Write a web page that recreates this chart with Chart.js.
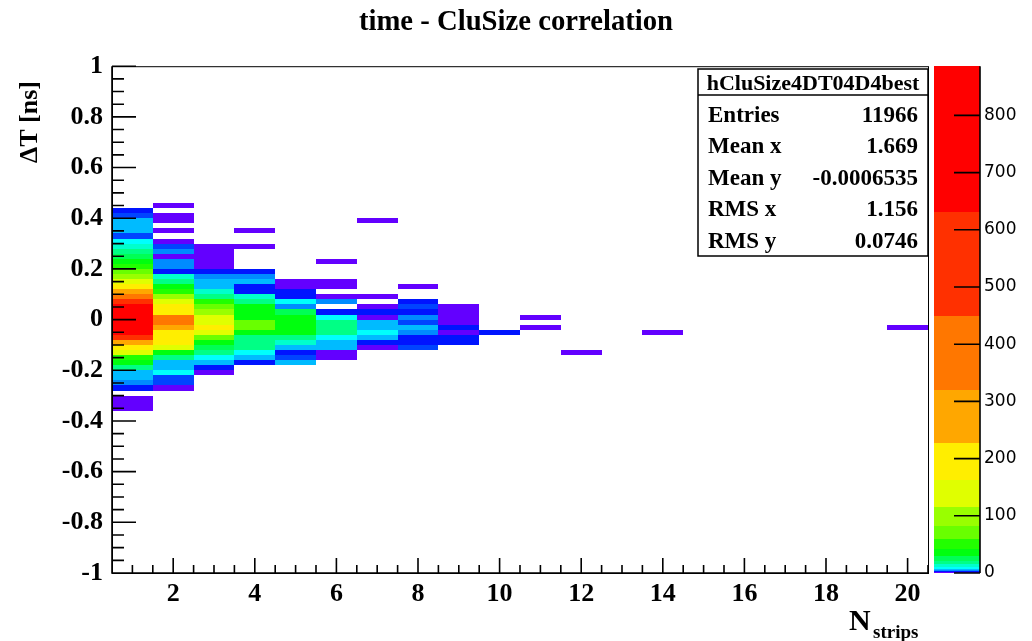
<!DOCTYPE html>
<html>
<head>
<meta charset="utf-8">
<title>time - CluSize correlation</title>
<script src="https://cdn.jsdelivr.net/npm/chart.js@4.4.1/dist/chart.umd.min.js"></script>
<style>
  html, body { margin: 0; padding: 0; background: #fff; }
</style>
</head>
<body>
<canvas id="hist" width="1032" height="641"></canvas>
<script>
// Stats box of the histogram
const histName = 'hCluSize4DT04D4best';
const statLabels = ['Entries', 'Mean x', 'Mean y', 'RMS x', 'RMS y'];
const statValues = ['11966', '1.669', '-0.0006535', '1.156', '0.0746'];

// Axis ticks
const xTicks = [2, 4, 6, 8, 10, 12, 14, 16, 18, 20];
const yTicks = [-1, -0.8, -0.6, -0.4, -0.2, 0, 0.2, 0.4, 0.6, 0.8, 1];
const zTicks = [0, 100, 200, 300, 400, 500, 600, 700, 800];

// Bin contents: one array per cluster size, starting at the lowest filled
// time bin (lower edge in firstBinLow) and going up in steps of yBinWidth
const yBinWidth = 0.02;
const stripValues = [1, 2, 3, 4, 5, 6, 7, 8, 9, 10, 11, 12, 14, 20];
const firstBinLow = [-0.36, -0.28, -0.22, -0.18, -0.18, -0.16, -0.12, -0.12, -0.10, -0.06, -0.04, -0.14, -0.06, -0.04];

const col1 = [1, 1, 1, 0, 2, 5, 6, 6, 18, 35, 50, 130, 190, 280, 500, 700, 800, 886, 860, 780,
              700, 550, 400, 240, 200, 135, 95, 68, 48, 33, 24, 17, 12, 9, 3, 6, 6, 6, 3, 2];
const col2 = [1, 3, 3, 8, 6, 6, 17, 35, 130, 190, 200, 210, 260, 360, 360, 225, 180, 130, 90, 45,
              33, 17, 12, 2, 5, 4, 1, 4, 3, 1, 0, 1, 0, 1, 1, 0, 1];
const col3 = [1, 2, 6, 9, 17, 25, 35, 65, 125, 170, 140, 130, 90, 65, 45, 18, 12, 6, 6, 4, 2, 1, 1, 1, 1, 1];
const col4 = [2, 6, 9, 16, 17, 18, 30, 60, 65, 40, 35, 32, 17, 12, 2, 2, 6, 4, 2, 0, 0, 0, 0, 1, 0, 0, 1];
const col5 = [6, 3, 2, 6, 12, 17, 35, 38, 40, 38, 25, 4, 9, 2, 2, 1, 1];
const col6 = [1, 1, 6, 6, 9, 17, 18, 17, 9, 2, 0, 4, 1, 0, 1, 1, 0, 0, 0, 1];
const col7 = [1, 2, 6, 9, 6, 6, 1, 2, 1, 0, 1, 0, 0, 0, 0, 0, 0, 0, 0, 0, 0, 0, 0, 0, 0, 1];
const col8 = [3, 2, 2, 4, 6, 3, 4, 2, 3, 2, 0, 0, 1];
const col9 = [2, 2, 1, 2, 1, 1, 1, 1];
const col10 = [2];
const col11 = [1, 0, 1];
const col12 = [1];
const col14 = [1];
const col20 = [1];
const columnCounts = [col1, col2, col3, col4, col5, col6, col7, col8, col9, col10, col11, col12, col14, col20];

// ROOT "pretty" palette, 20 contour levels (log spaced)
const palette = ['#6300ff', '#3300ff', '#0014ff', '#0044ff', '#008bff', '#00bbff', '#00fffc', '#00ffcc',
                 '#00ff85', '#00ff55', '#00ff0e', '#22ff00', '#69ff00', '#99ff00', '#e0ff00', '#ffee00',
                 '#ffa700', '#ff7700', '#ff3000', '#ff0000'];
const nLevels = palette.length;
const zMax = Math.max(...columnCounts.flat());

const serif = "'Liberation Serif', 'Times New Roman', serif";

function levelOf(v) {
    const k = Math.floor(nLevels * Math.log(v) / Math.log(zMax));
    return Math.min(Math.max(k, 0), nLevels - 1);
}

function levelEdge(k) {
    return k <= 0 ? 0 : Math.pow(zMax, k / nLevels);
}

const rootLook = {
    id: 'rootLook',
    beforeDatasetsDraw(chart) {
        const { ctx, chartArea: a, scales: { x, y, z } } = chart;
        ctx.save();

        // 2D histogram cells
        stripValues.forEach((s, i) => {
            const x0 = Math.round(x.getPixelForValue(s - 0.5));
            const x1 = Math.round(x.getPixelForValue(s + 0.5));
            columnCounts[i].forEach((v, j) => {
                if (v <= 0) return;
                const lo = firstBinLow[i] + j * yBinWidth;
                const yt = Math.round(y.getPixelForValue(lo + yBinWidth));
                const yb = Math.round(y.getPixelForValue(lo));
                ctx.fillStyle = palette[levelOf(v)];
                ctx.fillRect(x0, yt, x1 - x0, yb - yt);
            });
        });

        // colour bar
        const cx0 = a.right + 6, cx1 = a.right + 52;
        for (let k = 0; k < nLevels; k++) {
            const yt = Math.round(z.getPixelForValue(Math.min(levelEdge(k + 1), zMax)));
            const yb = Math.round(z.getPixelForValue(levelEdge(k)));
            ctx.fillStyle = palette[k];
            ctx.fillRect(cx0, yt, cx1 - cx0, yb - yt);
        }
        ctx.restore();
    },
    afterDraw(chart) {
        const { ctx, chartArea: a, scales: { x, y, z } } = chart;
        ctx.save();
        ctx.strokeStyle = '#000';

        // frame
        ctx.lineWidth = 1;
        ctx.strokeRect(a.left + 0.5, a.top + 0.5, a.right - a.left, a.bottom - a.top);

        // axes with inward ticks
        ctx.lineWidth = 1.6;
        ctx.beginPath();
        ctx.moveTo(a.left, a.top);
        ctx.lineTo(a.left, a.bottom);
        ctx.lineTo(a.right, a.bottom);
        for (let v = -1; v <= 1.0001; v += 0.05) {
            const py = y.getPixelForValue(v);
            const major = yTicks.some(t => Math.abs(t - v) < 1e-6);
            ctx.moveTo(a.left, py);
            ctx.lineTo(a.left + (major ? 24 : 12), py);
        }
        for (let v = 1; v <= 20.5001; v += 0.5) {
            const px = x.getPixelForValue(v);
            const major = xTicks.includes(v);
            ctx.moveTo(px, a.bottom);
            ctx.lineTo(px, a.bottom - (major ? 15 : 8));
        }
        ctx.stroke();

        // colour bar axis
        const cx1 = a.right + 52;
        ctx.beginPath();
        ctx.moveTo(cx1, a.top);
        ctx.lineTo(cx1, a.bottom);
        zTicks.forEach(t => {
            const py = z.getPixelForValue(t);
            ctx.moveTo(cx1 - 26, py);
            ctx.lineTo(cx1, py);
        });
        ctx.stroke();

        // axis titles
        ctx.fillStyle = '#000';
        ctx.font = `bold 26px ${serif}`;
        ctx.save();
        ctx.translate(30, 81);
        ctx.rotate(-Math.PI / 2);
        ctx.textAlign = 'right';
        ctx.textBaseline = 'middle';
        ctx.fillText('\u0394T [ns]', 0, 0);
        ctx.restore();

        ctx.textAlign = 'left';
        ctx.textBaseline = 'alphabetic';
        ctx.font = `bold 30px ${serif}`;
        ctx.fillText('N', 849, 630);
        ctx.font = `bold 19px ${serif}`;
        ctx.fillText('strips', 873, 638);

        // stats box
        const bx0 = 698, by0 = 69, bx1 = 928, by1 = 256;
        ctx.fillStyle = '#fff';
        ctx.fillRect(bx0, by0, bx1 - bx0, by1 - by0);
        ctx.lineWidth = 1.5;
        ctx.strokeRect(bx0, by0, bx1 - bx0, by1 - by0);
        ctx.beginPath();
        ctx.moveTo(bx0, 95);
        ctx.lineTo(bx1, 95);
        ctx.stroke();

        ctx.fillStyle = '#000';
        ctx.textBaseline = 'middle';
        ctx.textAlign = 'center';
        ctx.font = `bold 22px ${serif}`;
        ctx.fillText(histName, (bx0 + bx1) / 2, 84);
        ctx.font = `bold 23px ${serif}`;
        statLabels.forEach((lab, i) => {
            const ty = 116 + i * 31.5;
            ctx.textAlign = 'left';
            ctx.fillText(lab, 708, ty);
            ctx.textAlign = 'right';
            ctx.fillText(statValues[i], 918, ty);
        });
        ctx.restore();
    }
};

const tickFont = { family: serif, size: 26, weight: 'bold' };

new Chart(document.getElementById('hist'), {
    type: 'scatter',
    data: { datasets: [{ data: [], pointRadius: 0 }] },
    options: {
        responsive: false,
        animation: false,
        devicePixelRatio: 1,
        layout: { padding: 0 },
        plugins: {
            legend: { display: false },
            tooltip: { enabled: false },
            title: {
                display: true,
                text: 'time - CluSize correlation',
                color: '#000',
                font: { family: serif, size: 28.7, weight: 'bold' },
                padding: { top: 4, bottom: 26.6 }
            }
        },
        scales: {
            x: {
                type: 'linear',
                position: 'bottom',
                min: 0.5,
                max: 20.5,
                grid: { display: false, drawTicks: false },
                border: { display: false },
                ticks: { color: '#000', font: tickFont, padding: 6, maxRotation: 0, autoSkip: false, includeBounds: false },
                afterBuildTicks: s => { s.ticks = xTicks.map(v => ({ value: v })); },
                afterFit: s => { s.height = 68; }
            },
            y: {
                type: 'linear',
                position: 'left',
                min: -1,
                max: 1,
                grid: { display: false, drawTicks: false },
                border: { display: false },
                ticks: { color: '#000', font: tickFont, padding: 9, autoSkip: false, includeBounds: false,
                         callback: v => String(+v.toFixed(1)) },
                afterBuildTicks: s => { s.ticks = yTicks.map(v => ({ value: v })); },
                afterFit: s => { s.width = 112; }
            },
            z: {
                type: 'linear',
                position: 'right',
                min: 0,
                max: zMax,
                grid: { display: false, drawTicks: false },
                border: { display: false },
                ticks: { color: '#000', font: { family: "'DejaVu Sans', sans-serif", size: 17 }, padding: 56,
                         autoSkip: false, includeBounds: false },
                afterBuildTicks: s => { s.ticks = zTicks.map(v => ({ value: v })); },
                afterFit: s => { s.width = 104; }
            }
        }
    },
    plugins: [rootLook]
});
</script>
</body>
</html>
